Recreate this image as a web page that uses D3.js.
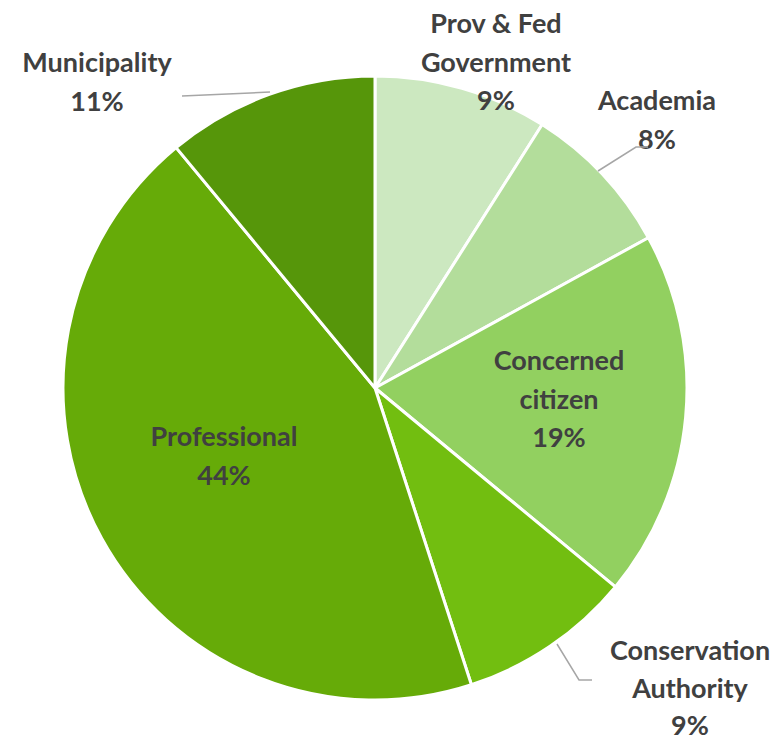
<!DOCTYPE html>
<html><head><meta charset="utf-8">
<script src="https://cdn.jsdelivr.net/npm/d3@7"></script>
<style>body{margin:0;background:#fff}svg{display:block}</style>
</head><body>
<svg id="c" width="780" height="742"></svg>
<script>
const categories = ["Prov & Fed Government", "Academia", "Concerned citizen", "Conservation Authority", "Professional", "Municipality"];
const values = [9, 8, 19, 9, 44, 11];
const labelLines = [["Prov & Fed", "Government", "9%"], ["Academia", "8%"], ["Concerned", "citizen", "19%"], ["Conservation", "Authority", "9%"], ["Professional", "44%"], ["Municipality", "11%"]];
const colors = ["#CCE8C0", "#B3DD9B", "#92D060", "#72BE10", "#66AB08", "#56960A"];

const svg = d3.select("#c");
const cx = 375, cy = 388, R = 312;
const g = svg.append("g").attr("transform", `translate(${cx},${cy})`);
const pie = d3.pie().sort(null).value(d => d)(values);
const arc = d3.arc().innerRadius(0).outerRadius(R);
g.selectAll("path").data(pie).join("path")
  .attr("d", arc).attr("fill", (d, i) => colors[i])
  .attr("stroke", "#fff").attr("stroke-width", 3).attr("stroke-linejoin", "round");

// label positions (center x, first baseline y) relative to page
const labelPos = [[496, 33], [657, 110], [559, 370], [690, 660], [224, 446], [97, 72]];
const lhs = [38.5, 38.5, 38.5, 37.5, 38.5, 38.5];
labelLines.forEach((lines, i) => {
  const t = svg.append("text").attr("text-anchor", "middle")
    .attr("font-family", "Lato, 'Open Sans', sans-serif").attr("font-weight", "bold")
    .attr("font-size", 27).attr("fill", "#404040");
  lines.forEach((s, j) => t.append("tspan").attr("x", labelPos[i][0]).attr("y", labelPos[i][1] + j * lhs[i]).text(s));
});

// leader lines
const leaders = [
  [[270, 92], [182, 96]],
  [[598, 171], [636, 147], [648, 147]],
  [[557, 644], [579, 680], [592, 680]]
];
leaders.forEach(pts => svg.append("path").attr("d", d3.line()(pts))
  .attr("fill", "none").attr("stroke", "#A6A6A6").attr("stroke-width", 1.5));
</script>
</body></html>
